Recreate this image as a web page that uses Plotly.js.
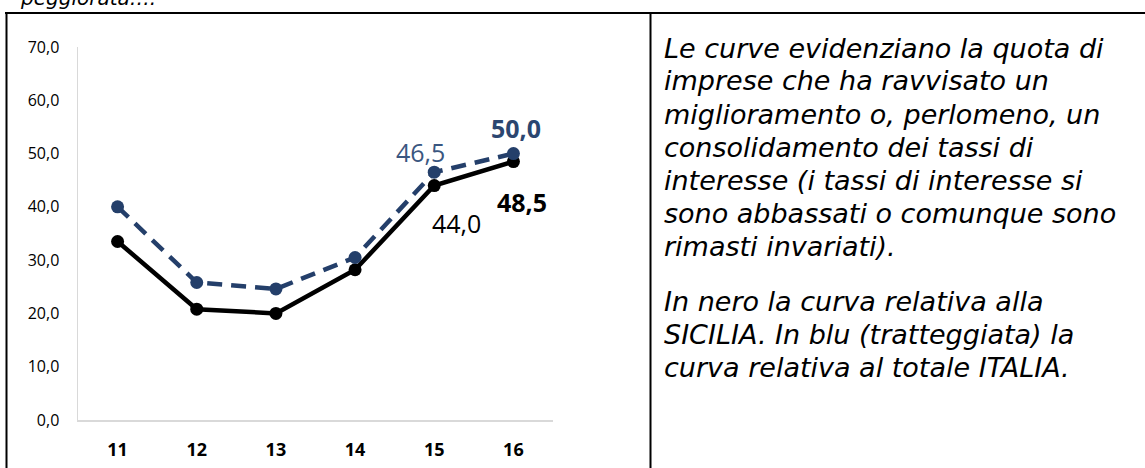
<!DOCTYPE html>
<html>
<head>
<meta charset="utf-8">
<script src="https://cdn.plot.ly/plotly-3.0.1.min.js"></script>
<style>
  html, body { margin: 0; padding: 0; background: #ffffff; }
  #chart { width: 1145px; height: 468px; }
</style>
</head>
<body>
<div id="chart"></div>
<script>
// ---- data ----
const categories = ['11', '12', '13', '14', '15', '16'];
const sicilia = [33.5, 20.8, 20.0, 28.2, 44.0, 48.5];
const italia  = [40.0, 25.8, 24.6, 30.5, 46.5, 50.0];
const yTicks = [0, 10, 20, 30, 40, 50, 60, 70];
const yTickText = ['0,0', '10,0', '20,0', '30,0', '40,0', '50,0', '60,0', '70,0'];
const labelledIdx = [4, 5];
const textLines1 = [
  'Le curve evidenziano la quota di',
  'imprese che ha ravvisato un',
  'miglioramento o, perlomeno, un',
  'consolidamento dei tassi di',
  'interesse (i tassi di interesse si',
  'sono abbassati o comunque sono',
  'rimasti invariati).'
];
const textLines2 = [
  'In nero la curva relativa alla',
  'SICILIA. In blu (tratteggiata) la',
  'curva relativa al totale ITALIA.'
];
const topText = 'peggiorata….';

// ---- layout helpers (pixel -> paper) ----
const W = 1145, H = 468;
const L = 78, R = 553, T = 47, B = 420;
const px = x => (x - L) / (R - L);
const py = y => (B - y) / (B - T);

const fmt = v => v.toFixed(1).replace('.', ',');
const BLUE = '#243F6A';
const BLUE_LBL = '#3A5680';

const traces = [
  {
    x: categories, y: sicilia, type: 'scatter', mode: 'lines+markers',
    name: 'SICILIA',
    line: { color: '#000000', width: 4.5 },
    marker: { color: '#000000', size: 13 },
    hoverinfo: 'skip'
  },
  {
    x: categories, y: italia, type: 'scatter', mode: 'lines+markers',
    name: 'ITALIA',
    line: { color: BLUE, width: 4.5, dash: '15px,9px' },
    marker: { color: BLUE, size: 13 },
    hoverinfo: 'skip'
  }
];

const annotations = [];
// data labels (x given as category index on the category axis)
const italiaStyle = [
  { xs: -14, ys: 20, bold: false },
  { xs: 3, ys: 26, bold: true }
];
const siciliaStyle = [
  { xs: 22, ys: -37, bold: false },
  { xs: 9, ys: -40, bold: true }
];
labelledIdx.forEach((i, k) => {
  const si = italiaStyle[k];
  annotations.push({
    x: i, y: italia[i], xref: 'x', yref: 'y',
    text: si.bold ? '<b>' + fmt(italia[i]) + '</b>' : fmt(italia[i]),
    showarrow: false, xshift: si.xs, yshift: si.ys,
    xanchor: 'center', yanchor: 'middle',
    font: { family: 'Open Sans, sans-serif', size: 25, color: si.bold ? '#2B4670' : BLUE_LBL }
  });
  const ss = siciliaStyle[k];
  annotations.push({
    x: i, y: sicilia[i], xref: 'x', yref: 'y',
    text: ss.bold ? '<b>' + fmt(sicilia[i]) + '</b>' : fmt(sicilia[i]),
    showarrow: false, xshift: ss.xs, yshift: ss.ys,
    xanchor: 'center', yanchor: 'middle',
    font: { family: 'Open Sans, sans-serif', size: 25, color: '#000000' }
  });
});

// right-hand text
const textFont = { family: 'DejaVu Sans, Verdana, sans-serif', size: 27, color: '#000000' };
textLines1.forEach((t, k) => {
  annotations.push({
    xref: 'paper', yref: 'paper', x: px(662), y: py(48 + 33 * k),
    xanchor: 'left', yanchor: 'middle', showarrow: false,
    text: '<i>' + t + '</i>', font: textFont
  });
});
textLines2.forEach((t, k) => {
  annotations.push({
    xref: 'paper', yref: 'paper', x: px(662), y: py(301 + 33 * k),
    xanchor: 'left', yanchor: 'middle', showarrow: false,
    text: '<i>' + t + '</i>', font: textFont
  });
});
// cut-off text at top
annotations.push({
  xref: 'paper', yref: 'paper', x: px(18), y: py(-2),
  xanchor: 'left', yanchor: 'middle', showarrow: false,
  text: '<i>' + topText + '</i>',
  font: { family: 'DejaVu Sans, Verdana, sans-serif', size: 20, color: '#000000' }
});

const border = { color: '#000000', width: 2 };
const shapes = [
  { type: 'line', xref: 'paper', yref: 'paper', x0: px(5), x1: px(W + 5), y0: py(13), y1: py(13), line: border },
  { type: 'line', xref: 'paper', yref: 'paper', x0: px(6.5), x1: px(6.5), y0: py(12), y1: py(H + 5), line: border },
  { type: 'line', xref: 'paper', yref: 'paper', x0: px(650.5), x1: px(650.5), y0: py(12), y1: py(H + 5), line: border }
];

const layout = {
  width: W, height: H,
  margin: { l: L, r: W - R, t: T, b: H - B, pad: 0 },
  paper_bgcolor: '#ffffff', plot_bgcolor: '#ffffff',
  showlegend: false,
  xaxis: {
    type: 'category',
    showgrid: false, zeroline: false,
    showline: true, linecolor: '#D9D9D9', linewidth: 1.5,
    ticks: '', ticklabelstandoff: 13,
    tickfont: { family: 'Open Sans, sans-serif', size: 18, color: '#000000', weight: 'bold' },
    range: [-0.5, 5.5]
  },
  yaxis: {
    range: [0, 70],
    tickvals: yTicks, ticktext: yTickText,
    showgrid: false, zeroline: false,
    showline: true, linecolor: '#D9D9D9', linewidth: 1.5,
    ticks: '', ticklabelstandoff: 14,
    tickfont: { family: 'Open Sans, sans-serif', size: 16, color: '#000000' }
  },
  annotations: annotations,
  shapes: shapes
};

Plotly.newPlot('chart', traces, layout, { displayModeBar: false, staticPlot: true });
</script>
</body>
</html>
